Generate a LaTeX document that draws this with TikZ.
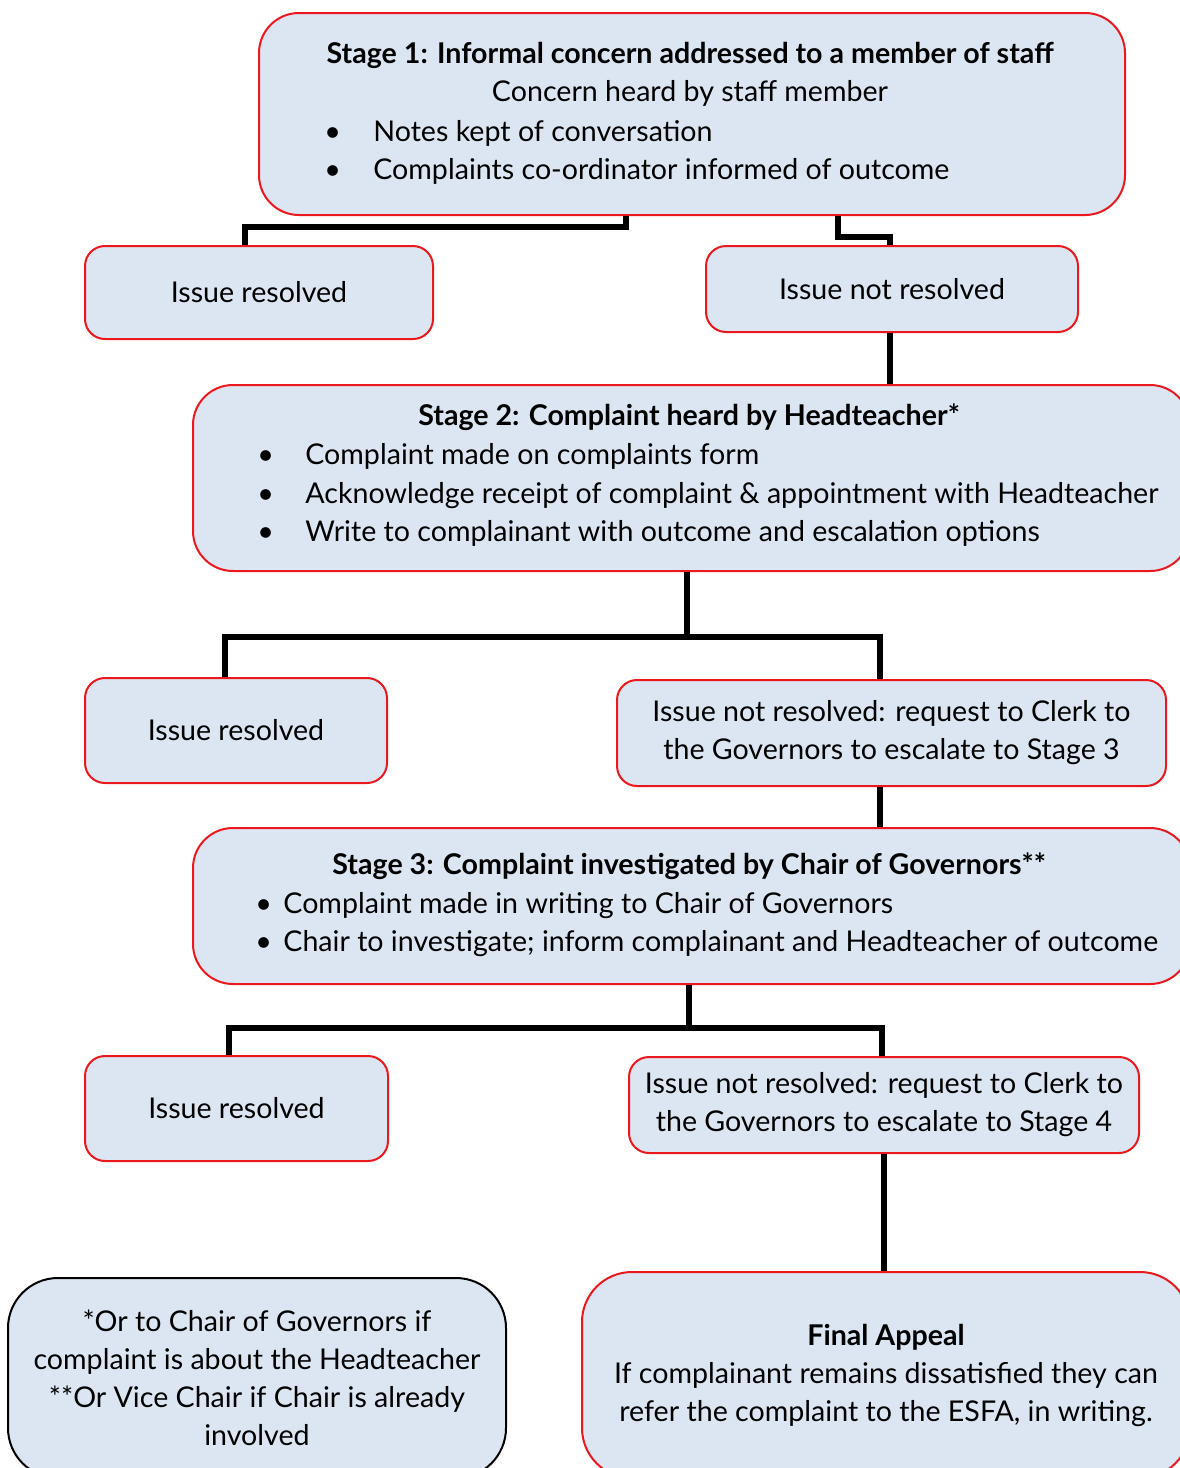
\documentclass[tikz,border=0pt]{standalone}
\usepackage{fontspec}
\setmainfont{Lato}
\usetikzlibrary{positioning}
\definecolor{cpFill}{RGB}{220,230,242}
\definecolor{cpEdge}{RGB}{235,25,30}
\newcommand{\cpbullet}[1]{\makebox[#1][l]{\textbullet}}

\begin{document}
\begin{tikzpicture}[x=0.5pt,y=-0.5pt,
    box/.style={draw=cpEdge, line width=1pt, fill=cpFill, rounded corners=10pt,
        align=center, inner sep=0pt, font=\fontsize{14.3}{19}\selectfont},
    stagebox/.style={box, rounded corners=20pt},
    notebox/.style={box, draw=black, rounded corners=25pt},
    txt/.style={inner sep=0pt, text height=13pt, text depth=3pt,
        font=\fontsize{14.3}{19}\selectfont},
    title/.style={txt, font=\fontsize{14.3}{19}\selectfont\bfseries},
    link/.style={line width=2.6pt}]
    \useasboundingbox (0,0) rectangle (1179,1468);

    % Stage 1
    \node[stagebox, minimum width=433pt, minimum height=101pt] (s1) at (692,114) {};
    \node[title] (s1t) at (690,53) {Stage 1: Informal concern addressed to a member of staff};
    \node[txt] (s1s) at (690,91) {Concern heard by staff member};
    \node[txt, anchor=west] (s1a) at (324,131) {\cpbullet{24.5pt}Notes kept of conversation};
    \node[txt, anchor=west] (s1b) at (324,169) {\cpbullet{24.5pt}Complaints co-ordinator informed of outcome};

    \node[box, minimum width=174pt, minimum height=46.5pt] (ir1) at (259,292.5) {Issue resolved};
    \node[box, minimum width=186pt, minimum height=43pt] (nr1) at (892,289) {Issue not resolved};

    % Stage 2
    \node[stagebox, minimum width=498.5pt, minimum height=93pt] (s2) at (691.5,478) {};
    \node[title] (s2t) at (689,415) {Stage 2: Complaint heard by Headteacher*};
    \node[txt, anchor=west] (s2a) at (257,454) {\cpbullet{24pt}Complaint made on complaints form};
    \node[txt, anchor=west] (s2b) at (257,493) {\cpbullet{24pt}Acknowledge receipt of complaint \& appointment with Headteacher};
    \node[txt, anchor=west] (s2c) at (257,531) {\cpbullet{24pt}Write to complainant with outcome and escalation options};

    \node[box, minimum width=151pt, minimum height=52.5pt] (ir2) at (236,730.5) {Issue resolved};
    \node[box, minimum width=274.5pt, minimum height=53pt] (nr2) at (891.5,733)
        {Issue not resolved: request to Clerk to\\the Governors to escalate to Stage 3};

    % Stage 3
    \node[stagebox, minimum width=498.5pt, minimum height=78pt] (s3) at (691.5,906) {};
    \node[title] (s3t) at (689,864) {Stage 3: Complaint investigated by Chair of Governors**};
    \node[txt, anchor=west] (s3a) at (255,903) {\cpbullet{14pt}Complaint made in writing to Chair of Governors};
    \node[txt, anchor=west] (s3b) at (255,941) {\cpbullet{14pt}Chair to investigate; inform complainant and Headteacher of outcome};

    \node[box, minimum width=151.5pt, minimum height=52.5pt] (ir3) at (236.5,1108.5) {Issue resolved};
    \node[box, minimum width=255pt, minimum height=48pt] (nr3) at (884,1105)
        {Issue not resolved: request to Clerk to\\the Governors to escalate to Stage 4};

    % notes and final appeal
    \node[notebox, minimum width=249pt, minimum height=100pt] (note) at (257,1378)
        {*Or to Chair of Governors if\\complaint is about the Headteacher\\**Or Vice Chair if Chair is already\\involved};
    \node[stagebox, rounded corners=25pt, minimum width=304pt, minimum height=103pt] (fin) at (886,1375)
        {\textbf{Final Appeal}\\If complainant remains dissatisfied they can\\refer the complaint to the ESFA, in writing.};

    % connectors
    \coordinate (a1) at (626,227);
    \coordinate (a2) at (245,227);
    \draw[link] (a1 |- s1.south) -- (a1) -- (a2) -- (a2 |- ir1.north);
    \coordinate (b1) at (838,237);
    \coordinate (b2) at (890,237);
    \draw[link] (b1 |- s1.south) -- (b1) -- (b2) -- (b2 |- nr1.north);
    \draw[link] (b2 |- nr1.south) -- (b2 |- s2.north);

    \coordinate (c0) at (687,637);
    \coordinate (c1) at (225,637);
    \coordinate (c2) at (880,637);
    \draw[link] (c0 |- s2.south) -- (c0);
    \draw[link] (c1 |- ir2.north) -- (c1) -- (c2) -- (c2 |- nr2.north);
    \draw[link] (c2 |- nr2.south) -- (c2 |- s3.north);

    \coordinate (d0) at (689,1028);
    \coordinate (d1) at (229,1028);
    \coordinate (d2) at (882,1028);
    \draw[link] (d0 |- s3.south) -- (d0);
    \draw[link] (d1 |- ir3.north) -- (d1) -- (d2) -- (d2 |- nr3.north);
    \draw[link] (nr3.south) -- (nr3.south |- fin.north);
\end{tikzpicture}
\end{document}
